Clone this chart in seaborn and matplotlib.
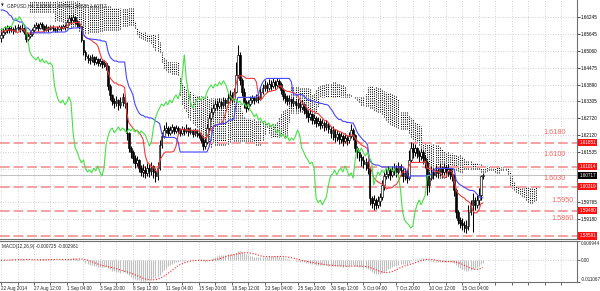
import numpy as np
import pandas as pd
import seaborn as sns
import matplotlib.pyplot as plt
from matplotlib import transforms, font_manager

# GBPUSD H4 candles, 22 Aug - 16 Oct 2014 (open = previous close)
close = [
    1.6563, 1.6573, 1.6580, 1.6587, 1.6580, 1.6584, 1.6577, 1.6587, 1.6591, 1.6584,
    1.6587, 1.6573, 1.6549, 1.6559, 1.6566, 1.6580, 1.6591, 1.6598, 1.6587, 1.6601,
    1.6594, 1.6580, 1.6591, 1.6584, 1.6591, 1.6587, 1.6580, 1.6584, 1.6591, 1.6587,
    1.6594, 1.6591, 1.6608, 1.6622, 1.6615, 1.6626, 1.6612, 1.6601, 1.6594, 1.6545,
    1.6503, 1.6489, 1.6482, 1.6475, 1.6486, 1.6468, 1.6479, 1.6465, 1.6472, 1.6461,
    1.6465, 1.6454, 1.6384, 1.6353, 1.6332, 1.6325, 1.6335, 1.6318, 1.6328, 1.6346,
    1.6325, 1.6220, 1.6167, 1.6153, 1.6132, 1.6115, 1.6125, 1.6097, 1.6083, 1.6090,
    1.6080, 1.6097, 1.6087, 1.6104, 1.6083, 1.6069, 1.6097, 1.6178, 1.6209, 1.6230,
    1.6237, 1.6220, 1.6230, 1.6241, 1.6227, 1.6237, 1.6230, 1.6220, 1.6234, 1.6227,
    1.6237, 1.6223, 1.6230, 1.6216, 1.6227, 1.6220, 1.6213, 1.6195, 1.6174, 1.6188,
    1.6237, 1.6272, 1.6293, 1.6307, 1.6321, 1.6314, 1.6328, 1.6318, 1.6335, 1.6325,
    1.6342, 1.6353, 1.6339, 1.6363, 1.6423, 1.6493, 1.6405, 1.6363, 1.6328, 1.6307,
    1.6321, 1.6335, 1.6342, 1.6335, 1.6346, 1.6339, 1.6363, 1.6377, 1.6388, 1.6377,
    1.6391, 1.6384, 1.6398, 1.6388, 1.6402, 1.6391, 1.6370, 1.6349, 1.6342, 1.6332,
    1.6339, 1.6325, 1.6332, 1.6318, 1.6325, 1.6311, 1.6321, 1.6300, 1.6290, 1.6276,
    1.6286, 1.6265, 1.6272, 1.6255, 1.6262, 1.6248, 1.6255, 1.6241, 1.6251, 1.6234,
    1.6220, 1.6230, 1.6206, 1.6216, 1.6199, 1.6209, 1.6192, 1.6202, 1.6195, 1.6209,
    1.6230, 1.6213, 1.6167, 1.6153, 1.6136, 1.6125, 1.6111, 1.6118, 1.6097, 1.5992,
    1.5975, 1.5985, 1.5968, 1.5982, 1.5996, 1.6038, 1.6069, 1.6076, 1.6090, 1.6073,
    1.6087, 1.6097, 1.6083, 1.6104, 1.6090, 1.6069, 1.6080, 1.6062, 1.6125, 1.6167,
    1.6153, 1.6167, 1.6150, 1.6139, 1.6153, 1.6132, 1.6118, 1.6038, 1.6062, 1.6083,
    1.6073, 1.6090, 1.6080, 1.6097, 1.6083, 1.6101, 1.6087, 1.6094, 1.6076, 1.6069,
    1.6020, 1.5943, 1.5915, 1.5905, 1.5898, 1.5887, 1.5894, 1.5943, 1.5968, 1.5985,
    1.5968, 1.5985, 1.6003, 1.6069, 1.60717]
high = [
    1.6587, 1.6587, 1.6594, 1.6598, 1.6594, 1.6594, 1.6591, 1.6598, 1.6601, 1.6598,
    1.6601, 1.6591, 1.6580, 1.6570, 1.6577, 1.6587, 1.6601, 1.6608, 1.6605, 1.6608,
    1.6608, 1.6598, 1.6601, 1.6594, 1.6598, 1.6598, 1.6591, 1.6594, 1.6598, 1.6598,
    1.6601, 1.6601, 1.6615, 1.6632, 1.6629, 1.6636, 1.6626, 1.6615, 1.6608, 1.6594,
    1.6545, 1.6510, 1.6496, 1.6493, 1.6496, 1.6489, 1.6489, 1.6482, 1.6482, 1.6475,
    1.6475, 1.6468, 1.6458, 1.6391, 1.6356, 1.6342, 1.6349, 1.6339, 1.6346, 1.6360,
    1.6353, 1.6328, 1.6223, 1.6174, 1.6160, 1.6143, 1.6139, 1.6129, 1.6108, 1.6111,
    1.6104, 1.6115, 1.6111, 1.6118, 1.6108, 1.6097, 1.6118, 1.6195, 1.6223, 1.6248,
    1.6258, 1.6244, 1.6244, 1.6251, 1.6244, 1.6248, 1.6244, 1.6237, 1.6244, 1.6241,
    1.6251, 1.6241, 1.6241, 1.6234, 1.6237, 1.6234, 1.6230, 1.6220, 1.6202, 1.6202,
    1.6251, 1.6286, 1.6307, 1.6321, 1.6335, 1.6335, 1.6342, 1.6335, 1.6346, 1.6342,
    1.6360, 1.6370, 1.6363, 1.6377, 1.6468, 1.6528, 1.6503, 1.6412, 1.6377, 1.6335,
    1.6335, 1.6349, 1.6353, 1.6349, 1.6356, 1.6353, 1.6377, 1.6391, 1.6405, 1.6398,
    1.6409, 1.6405, 1.6412, 1.6405, 1.6412, 1.6409, 1.6398, 1.6377, 1.6360, 1.6353,
    1.6353, 1.6342, 1.6346, 1.6335, 1.6339, 1.6332, 1.6335, 1.6325, 1.6311, 1.6300,
    1.6300, 1.6290, 1.6286, 1.6279, 1.6276, 1.6272, 1.6269, 1.6262, 1.6265, 1.6258,
    1.6244, 1.6244, 1.6234, 1.6230, 1.6223, 1.6223, 1.6216, 1.6220, 1.6213, 1.6223,
    1.6251, 1.6237, 1.6216, 1.6174, 1.6160, 1.6146, 1.6139, 1.6132, 1.6125, 1.6097,
    1.5999, 1.6003, 1.5992, 1.5999, 1.6010, 1.6055, 1.6083, 1.6097, 1.6104, 1.6097,
    1.6104, 1.6115, 1.6108, 1.6118, 1.6111, 1.6097, 1.6097, 1.6090, 1.6160, 1.6188,
    1.6185, 1.6181, 1.6171, 1.6160, 1.6167, 1.6160, 1.6143, 1.6125, 1.6083, 1.6104,
    1.6097, 1.6108, 1.6101, 1.6115, 1.6104, 1.6115, 1.6108, 1.6111, 1.6097, 1.6090,
    1.6076, 1.6027, 1.5950, 1.5926, 1.5922, 1.5912, 1.5915, 1.5968, 1.5985, 1.6010,
    1.5996, 1.6003, 1.6027, 1.6073, 1.6080]
low = [
    1.6538, 1.6552, 1.6566, 1.6570, 1.6570, 1.6573, 1.6566, 1.6573, 1.6580, 1.6573,
    1.6577, 1.6566, 1.6538, 1.6542, 1.6552, 1.6559, 1.6573, 1.6584, 1.6577, 1.6584,
    1.6584, 1.6573, 1.6577, 1.6573, 1.6580, 1.6577, 1.6573, 1.6573, 1.6580, 1.6577,
    1.6584, 1.6580, 1.6587, 1.6601, 1.6601, 1.6608, 1.6601, 1.6591, 1.6587, 1.6538,
    1.6493, 1.6475, 1.6465, 1.6461, 1.6468, 1.6458, 1.6461, 1.6454, 1.6454, 1.6447,
    1.6451, 1.6440, 1.6370, 1.6335, 1.6318, 1.6307, 1.6314, 1.6300, 1.6307, 1.6314,
    1.6307, 1.6195, 1.6153, 1.6132, 1.6115, 1.6097, 1.6104, 1.6083, 1.6069, 1.6066,
    1.6062, 1.6069, 1.6066, 1.6073, 1.6062, 1.6048, 1.6055, 1.6090, 1.6167, 1.6202,
    1.6220, 1.6209, 1.6213, 1.6220, 1.6216, 1.6220, 1.6216, 1.6209, 1.6213, 1.6213,
    1.6220, 1.6209, 1.6216, 1.6206, 1.6209, 1.6206, 1.6202, 1.6185, 1.6160, 1.6164,
    1.6181, 1.6230, 1.6265, 1.6283, 1.6300, 1.6300, 1.6307, 1.6304, 1.6311, 1.6311,
    1.6318, 1.6332, 1.6325, 1.6332, 1.6360, 1.6412, 1.6388, 1.6349, 1.6307, 1.6293,
    1.6300, 1.6314, 1.6325, 1.6321, 1.6328, 1.6325, 1.6335, 1.6356, 1.6367, 1.6363,
    1.6370, 1.6370, 1.6377, 1.6374, 1.6381, 1.6377, 1.6356, 1.6335, 1.6325, 1.6318,
    1.6321, 1.6311, 1.6314, 1.6304, 1.6307, 1.6297, 1.6304, 1.6286, 1.6272, 1.6258,
    1.6265, 1.6251, 1.6251, 1.6241, 1.6244, 1.6234, 1.6237, 1.6227, 1.6230, 1.6220,
    1.6202, 1.6195, 1.6188, 1.6192, 1.6181, 1.6185, 1.6174, 1.6185, 1.6178, 1.6185,
    1.6202, 1.6195, 1.6153, 1.6132, 1.6122, 1.6104, 1.6097, 1.6090, 1.6076, 1.5968,
    1.5957, 1.5950, 1.5954, 1.5957, 1.5964, 1.5985, 1.6020, 1.6059, 1.6062, 1.6055,
    1.6066, 1.6073, 1.6066, 1.6076, 1.6069, 1.6048, 1.6055, 1.6045, 1.6055, 1.6118,
    1.6132, 1.6139, 1.6132, 1.6118, 1.6125, 1.6115, 1.6097, 1.6003, 1.6013, 1.6055,
    1.6059, 1.6066, 1.6062, 1.6069, 1.6066, 1.6073, 1.6066, 1.6069, 1.6059, 1.6052,
    1.5999, 1.5922, 1.5901, 1.5887, 1.5880, 1.5873, 1.5870, 1.5880, 1.5933, 1.5873,
    1.5950, 1.5957, 1.5968, 1.5985, 1.60586]
first_open = 1.6552

# Ichimoku values on the first bars (history before the window)
tenkan_early = [1.6573, 1.6577, 1.6577, 1.6580, 1.6580, 1.6580, 1.6577, 1.6577]
kijun_early = [1.6650, 1.6650, 1.6647, 1.6643, 1.6633, 1.6629, 1.6615, 1.6615, 1.6612,
               1.6608, 1.6608, 1.6601, 1.6587, 1.6587, 1.6580] + [1.6570] * 10
span_a_early = [1.6703] * 14 + [1.6643] * 12
span_b_early = ([1.6738] * 14 + [1.6682] * 25 + [1.6668] * 15 + [1.6657] * 11
                + [1.6612, 1.6587, 1.6580] + [1.6573] * 3 + [1.6566] * 6)

levels = [1.61851, 1.61014, 1.60319, 1.59480, 1.58591]
level_texts = ['1.6180', '1.6100', '1.6030', '1.5950', '1.5860']
level_text_y = [1.6223, 1.6143, 1.6059, 1.5985, 1.5919]
level_text_x = [269, 269, 269, 272.5, 272.5]
last_price = 1.60717

price_ticks = [1.66245, 1.65645, 1.65060, 1.64475, 1.63890, 1.63305, 1.62720, 1.62120,
               1.61535, 1.60950, 1.60350, 1.59765, 1.59180, 1.58595]
hidden_ticks = [1.60950, 1.60350, 1.58595]
date_labels = ['22 Aug 2014', '27 Aug 12:00', '1 Sep 04:00', '3 Sep 20:00', '8 Sep 12:00',
               '11 Sep 04:00', '15 Sep 20:00', '18 Sep 12:00', '23 Sep 04:00', '25 Sep 20:00',
               '30 Sep 12:00', '3 Oct 04:00', '7 Oct 20:00', '10 Oct 12:00', '15 Oct 04:00']

sns.set_style('white')
names = {f.name for f in font_manager.fontManager.ttflist}
small_font = 'Liberation Sans Narrow' if 'Liberation Sans Narrow' in names else 'Liberation Sans'
small = 3.9 if small_font == 'Liberation Sans Narrow' else 3.3
plt.rcParams['font.family'] = [small_font, 'DejaVu Sans']

n = len(close)
x = np.arange(n)
c = np.array(close)
o = np.array([first_open] + close[:-1])
hi = pd.Series(high)
lo = pd.Series(low)

tenkan = ((hi.rolling(9).max() + lo.rolling(9).min()) / 2).to_numpy()
tenkan[:8] = tenkan_early
kijun = ((hi.rolling(26).max() + lo.rolling(26).min()) / 2).to_numpy()
kijun[:25] = kijun_early
span_a = np.concatenate([span_a_early, (tenkan + kijun) / 2])
mid52 = ((hi.rolling(52).max() + lo.rolling(52).min()) / 2).to_numpy()[51:]
span_b = np.concatenate([span_b_early, mid52])
cloud_x = np.arange(len(span_a))

cs = pd.Series(close)
macd = (cs.ewm(span=12, adjust=False).mean() - cs.ewm(span=26, adjust=False).mean()).to_numpy()
signal = pd.Series(macd).rolling(9, min_periods=1).mean().to_numpy()

fig = plt.figure(figsize=(6, 2.91), dpi=100)
ax = fig.add_axes([0, 1 - 239 / 291, 577 / 600, 239 / 291])
ax2 = fig.add_axes([0, 1 - 282 / 291, 577 / 600, 41 / 291])

grid_kw = dict(color='#c4c4c4', linestyle=(0, (1, 2)), linewidth=0.6)
for a in (ax, ax2):
    a.set_xlim(-0.5, 279.7)
    a.set_xticks(np.arange(0, 280, 8))
    a.grid(True, **grid_kw)
    a.set_axisbelow(True)
    a.spines['left'].set_visible(False)
    for s in ('right', 'bottom', 'top'):
        a.spines[s].set_color('#707070')
        a.spines[s].set_linewidth(0.8)
ax.spines['top'].set_visible(False)

# cloud as dotted vertical strokes
ax.vlines(cloud_x, span_a, span_b, colors='black', linestyles=(0, (1, 1.2)), linewidth=0.75, zorder=1)

# levels and current price
for lv in levels:
    ax.axhline(lv, color='#f5a0a0', linewidth=1.4, dashes=(5, 2), zorder=2)
ax.axhline(last_price, color='#c0c0c0', linewidth=0.7, zorder=2)
for t, ty, tx in zip(level_texts, level_text_y, level_text_x):
    ax.text(tx, ty, t, color='#f06a6a', fontsize=5.2, family='Liberation Sans',
            ha='center', va='center', zorder=6)

# candles
bull = c >= o
bottom = np.minimum(o, c)
height = np.maximum(np.abs(c - o), 0.00004)
ax.vlines(x, low, high, colors='black', linewidth=0.75, zorder=3)
ax.bar(x[bull], height[bull], bottom=bottom[bull], width=0.8, color='white',
       edgecolor='black', linewidth=0.45, zorder=4)
ax.bar(x[~bull], height[~bull], bottom=bottom[~bull], width=0.8, color='black',
       edgecolor='black', linewidth=0.45, zorder=4)

# ichimoku lines
sns.lineplot(x=x, y=tenkan, ax=ax, color='#f03c3c', linewidth=0.8, legend=False, zorder=5)
sns.lineplot(x=x, y=kijun, ax=ax, color='#4646ff', linewidth=0.8, legend=False, zorder=5)
sns.lineplot(x=x[:-26], y=c[26:], ax=ax, color='#46e046', linewidth=0.8, legend=False, zorder=5)

ax.set_ylim(1.58485, 1.6685)
ax.set_yticks(price_ticks)
ax.set_yticklabels(['' if p in hidden_ticks else f'{p:.5f}' for p in price_ticks])
ax.yaxis.tick_right()
ax.tick_params(axis='y', length=2, width=0.5, pad=1, labelsize=small, colors='black')
ax.tick_params(axis='x', bottom=False, labelbottom=False)
ax.set_xlabel('')
ax.set_ylabel('')

trans = transforms.blended_transform_factory(ax.transAxes, ax.transData)
for lv in levels:
    ax.text(1.004, lv, f'{lv:.5f}', transform=trans, ha='left', va='center', fontsize=small,
            color='white', clip_on=False, zorder=7,
            bbox=dict(boxstyle='square,pad=0.25', fc='#ff1010', ec='none'))
ax.text(1.004, last_price, f'{last_price:.5f}', transform=trans, ha='left', va='center',
        fontsize=small, color='white', clip_on=False, zorder=7,
        bbox=dict(boxstyle='square,pad=0.25', fc='black', ec='none'))

ax.text(0.002, 0.985, '\u25bc', transform=ax.transAxes, fontsize=2.6, va='top', ha='left',
        family=['DejaVu Sans'])
ax.text(0.012, 0.988, 'GBPUSD,H4  1.60690 1.60796 1.60586 1.60717', transform=ax.transAxes,
        fontsize=small, va='top', ha='left')

# MACD panel
ax2.vlines(x, 0, macd, colors='#c0c0c0', linewidth=0.8, zorder=2)
sns.lineplot(x=x, y=signal, ax=ax2, color='#ff2020', linewidth=0.8, linestyle=(0, (1, 1.5)),
             legend=False, zorder=3)
ax2.set_ylim(-0.011067, 0.009944)
ax2.set_yticks([0.009944, 0.0, -0.011067])
ax2.set_yticklabels(['0.009944', '0.00', '-0.011067'])
ax2.yaxis.tick_right()
ax2.tick_params(axis='y', length=2, width=0.5, pad=1, labelsize=small)
tl = ax2.get_yticklabels()
tl[0].set_va('top')
tl[2].set_va('bottom')
xl = ['' if k % 2 or k // 2 >= len(date_labels) else date_labels[k // 2] for k in range(35)]
ax2.set_xticklabels(xl)
ax2.tick_params(axis='x', length=2, width=0.5, pad=1, labelsize=small, bottom=True)
for lab in ax2.get_xticklabels():
    lab.set_ha('left')
ax2.set_xlabel('')
ax2.set_ylabel('')
ax2.text(0.004, 0.93, 'MACD(12,26,9) -0.000725 -0.002961', transform=ax2.transAxes,
         fontsize=small, va='top', ha='left')

fig.savefig('out.png', dpi=100)
